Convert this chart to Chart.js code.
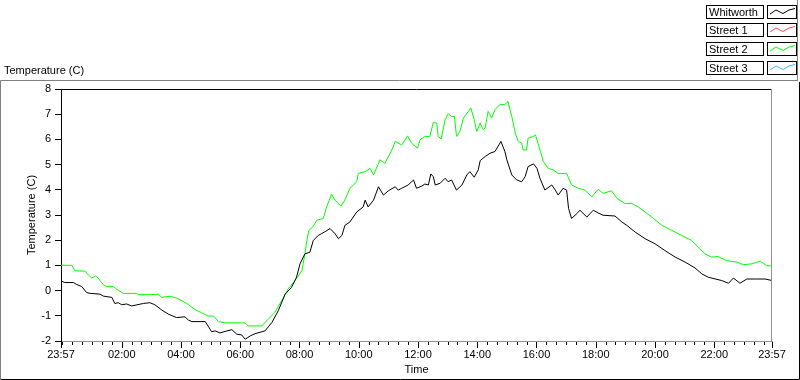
<!DOCTYPE html>
<html>
<head>
<meta charset="utf-8">
<script src="https://cdn.jsdelivr.net/npm/chart.js@4/dist/chart.umd.min.js"></script>
<style>
  html, body { margin: 0; padding: 0; background: #fff; }
  #graph { display: block; }
</style>
</head>
<body>
<canvas id="graph" width="800" height="380"></canvas>
<script>
// minutes after 23:57 -> temperature (C)
var whitworthTimes = [0, 8, 25, 32, 42, 52, 59, 79, 86, 93, 103, 109, 116, 123, 133, 143, 167, 180, 190, 204, 217, 234, 251, 258, 265, 292, 298, 305, 312, 322, 336, 346, 356, 366, 373, 383, 393, 413, 427, 440, 454, 467, 477, 484, 494, 504, 511, 521, 528, 545, 555, 562, 569, 575, 585, 599, 612, 616, 622, 633, 643, 653, 663, 677, 683, 690, 703, 714, 720, 731, 737, 744, 749, 754, 758, 768, 778, 784, 791, 801, 812, 822, 828, 837, 845, 849, 859, 869, 879, 891, 899, 903, 913, 923, 933, 940, 946, 957, 964, 970, 980, 994, 1001, 1007, 1017, 1024, 1028, 1034, 1045, 1051, 1065, 1078, 1088, 1098, 1122, 1136, 1146, 1163, 1183, 1203, 1223, 1244, 1264, 1284, 1298, 1311, 1338, 1352, 1362, 1375, 1389, 1406, 1426, 1440];
var whitworthTemps = [0.38, 0.32, 0.32, 0.24, 0.16, -0.08, -0.11, -0.14, -0.22, -0.24, -0.27, -0.51, -0.48, -0.56, -0.53, -0.61, -0.51, -0.48, -0.56, -0.77, -0.93, -1.07, -1.04, -1.17, -1.23, -1.23, -1.41, -1.63, -1.60, -1.68, -1.60, -1.55, -1.73, -1.76, -1.93, -1.80, -1.71, -1.60, -1.27, -0.80, -0.14, 0.13, 0.53, 1.06, 1.46, 1.52, 1.99, 2.19, 2.26, 2.46, 2.26, 2.06, 2.19, 2.59, 2.72, 3.12, 3.32, 3.59, 3.32, 3.59, 4.12, 3.79, 3.96, 4.12, 3.99, 4.06, 4.19, 4.39, 4.06, 4.15, 4.23, 4.19, 4.63, 4.52, 4.19, 4.26, 4.46, 4.32, 4.39, 3.99, 4.19, 4.59, 4.72, 4.50, 4.79, 5.16, 5.32, 5.45, 5.52, 5.92, 5.52, 5.19, 4.59, 4.39, 4.32, 4.52, 4.92, 5.03, 4.85, 4.46, 3.99, 4.19, 3.99, 3.79, 4.06, 3.99, 3.26, 2.86, 3.06, 3.19, 2.92, 3.19, 3.08, 2.99, 2.96, 2.72, 2.59, 2.32, 2.06, 1.86, 1.59, 1.33, 1.13, 0.90, 0.66, 0.53, 0.40, 0.29, 0.50, 0.29, 0.46, 0.46, 0.46, 0.40];

var street2Times = [0, 22, 28, 49, 55, 62, 70, 76, 82, 89, 106, 113, 126, 153, 157, 184, 197, 204, 221, 234, 245, 255, 271, 285, 298, 309, 319, 332, 366, 373, 379, 407, 413, 420, 433, 447, 460, 474, 488, 494, 498, 502, 511, 518, 531, 538, 548, 555, 567, 575, 585, 599, 602, 616, 626, 633, 646, 656, 670, 677, 690, 702, 710, 722, 727, 737, 747, 754, 761, 764, 770, 778, 784, 791, 797, 801, 808, 815, 825, 830, 837, 842, 849, 855, 859, 865, 872, 879, 889, 899, 905, 913, 920, 926, 933, 936, 943, 946, 957, 961, 970, 977, 987, 997, 1007, 1024, 1034, 1048, 1061, 1075, 1088, 1098, 1115, 1126, 1142, 1156, 1169, 1183, 1200, 1217, 1237, 1257, 1277, 1291, 1304, 1318, 1331, 1348, 1369, 1382, 1399, 1416, 1429, 1440];
var street2Temps = [1.01, 1.00, 0.79, 0.77, 0.63, 0.50, 0.58, 0.48, 0.32, 0.18, 0.16, 0.05, -0.11, -0.11, -0.16, -0.16, -0.14, -0.27, -0.22, -0.30, -0.40, -0.51, -0.75, -0.88, -1.01, -1.01, -1.23, -1.28, -1.28, -1.29, -1.40, -1.40, -1.27, -1.13, -0.87, -0.40, 0.06, 0.40, 0.79, 1.46, 1.99, 2.39, 2.55, 2.79, 2.86, 3.32, 3.83, 3.59, 3.35, 3.59, 4.06, 4.32, 4.65, 4.72, 4.85, 4.59, 5.19, 5.05, 5.58, 5.92, 5.78, 6.14, 5.85, 5.65, 5.98, 6.12, 6.12, 6.67, 6.65, 6.12, 6.01, 6.78, 7.02, 6.91, 6.91, 6.12, 6.32, 6.85, 7.11, 7.25, 6.78, 6.32, 6.65, 6.38, 6.45, 7.11, 6.85, 7.18, 7.38, 7.38, 7.51, 6.91, 6.25, 5.92, 5.85, 5.58, 5.58, 6.05, 6.12, 6.18, 5.58, 5.12, 4.85, 4.79, 4.65, 4.65, 4.19, 4.06, 3.99, 3.72, 4.02, 3.86, 3.96, 3.66, 3.46, 3.46, 3.32, 3.12, 2.86, 2.59, 2.39, 2.19, 1.99, 1.72, 1.46, 1.33, 1.35, 1.19, 1.13, 1.03, 1.06, 1.17, 0.99, 0.98];

// no visible trace for these two
var street1Times = [];
var street1Temps = [];
var street3Times = [];
var street3Temps = [];

var seriesNames = ['Whitworth', 'Street 1', 'Street 2', 'Street 3'];
var seriesColors = ['#000000', '#ff4a4a', '#00ff00', '#33bbff'];

var xTickValues = [0, 123, 243, 363, 483, 603, 723, 843, 963, 1083, 1203, 1323, 1440];
var xTickLabels = ['23:57', '02:00', '04:00', '06:00', '08:00', '10:00', '12:00', '14:00', '16:00', '18:00', '20:00', '22:00', '23:57'];

var FONT = "'Liberation Sans', Arial, sans-serif";

function pts(times, temps) {
  return times.map(function (t, i) { return {x: t, y: temps[i]}; });
}

var allTimes = [whitworthTimes, street1Times, street2Times, street3Times];
var allTemps = [whitworthTemps, street1Temps, street2Temps, street3Temps];

var datasets = seriesNames.map(function (name, i) {
  return {
    label: name,
    data: pts(allTimes[i], allTemps[i]),
    borderColor: seriesColors[i],
    backgroundColor: seriesColors[i],
    borderWidth: 1,
    pointRadius: 0,
    tension: 0,
    fill: false
  };
});

// frame, minor ticks, legend, corner label
var decor = {
  id: 'decor',
  afterDraw: function (chart) {
    var ctx = chart.ctx;
    var a = chart.chartArea;
    var xs = chart.scales.x;
    ctx.save();
    ctx.lineWidth = 1;

    // panel border
    ctx.strokeStyle = '#808080';
    ctx.beginPath();
    ctx.moveTo(0.5, 380); ctx.lineTo(0.5, 80.5); ctx.lineTo(798, 80.5);
    ctx.moveTo(797.5, 0); ctx.lineTo(797.5, 80);
    ctx.stroke();
    ctx.strokeStyle = '#000';
    ctx.beginPath();
    ctx.moveTo(799.5, 82); ctx.lineTo(799.5, 379.5); ctx.lineTo(1, 379.5);
    ctx.stroke();

    // plot frame top / right
    ctx.strokeStyle = '#000';
    ctx.beginPath();
    ctx.moveTo(a.left, a.top + 0.5); ctx.lineTo(a.right, a.top + 0.5);
    ctx.stroke();
    ctx.strokeStyle = '#909090';
    ctx.beginPath();
    ctx.moveTo(a.right - 0.5, a.top); ctx.lineTo(a.right - 0.5, a.bottom);
    ctx.stroke();

    // x ticks: minor every 20 min from 00:00, major at labels
    ctx.strokeStyle = '#000';
    ctx.beginPath();
    for (var m = 3; m < 1440; m += 20) {
      var px = Math.round(xs.getPixelForValue(m)) + 0.5;
      ctx.moveTo(px, a.bottom + 1); ctx.lineTo(px, a.bottom + 4);
    }
    xTickValues.forEach(function (v) {
      var px = Math.round(xs.getPixelForValue(v)) + 0.5;
      ctx.moveTo(px, a.bottom + 1); ctx.lineTo(px, a.bottom + 7);
    });
    ctx.stroke();

    // corner label
    ctx.fillStyle = '#000';
    ctx.font = '11px ' + FONT;
    ctx.textBaseline = 'middle';
    ctx.textAlign = 'left';
    ctx.fillText('Temperature (C)', 4, 71);

    // legend
    seriesNames.forEach(function (name, i) {
      var top = 4.5 + i * 18.7;
      ctx.fillStyle = '#fff';
      ctx.fillRect(707, Math.round(top), 56, 13);
      ctx.strokeStyle = '#000';
      ctx.strokeRect(706.5, Math.round(top) + 0.5, 57, 13);
      ctx.strokeRect(767.5, Math.round(top) + 0.5, 29, 13);
      ctx.fillStyle = '#000';
      ctx.fillText(name, 709, Math.round(top) + 7.5);
      var t0 = Math.round(top);
      ctx.strokeStyle = seriesColors[i];
      ctx.beginPath();
      ctx.moveTo(770, t0 + 9); ctx.lineTo(776, t0 + 5); ctx.lineTo(783, t0 + 8.5);
      ctx.lineTo(789, t0 + 5); ctx.lineTo(795, t0 + 3.5);
      ctx.stroke();
    });
    ctx.restore();
  }
};

var context = document.getElementById('graph').getContext('2d');
var chart = new Chart(context, {
  type: 'line',
  data: { datasets: datasets },
  options: {
    responsive: false,
    animation: false,
    layout: { padding: { left: 0, top: 89, right: 28, bottom: 0 } },
    plugins: {
      legend: { display: false },
      tooltip: { enabled: false }
    },
    scales: {
      x: {
        type: 'linear',
        min: 0,
        max: 1440,
        afterBuildTicks: function (scale) {
          scale.ticks = xTickValues.map(function (v) { return {value: v}; });
        },
        afterFit: function (scale) { scale.height = 39; },
        ticks: {
          autoSkip: false,
          maxRotation: 0,
          padding: 7,
          color: '#000',
          font: { family: FONT, size: 11 },
          callback: function (v) {
            var k = xTickValues.indexOf(v);
            return k >= 0 ? xTickLabels[k] : '';
          }
        },
        grid: { drawOnChartArea: false, drawTicks: false },
        border: { color: '#909090' },
        title: {
          display: true,
          text: 'Time',
          color: '#000',
          font: { family: FONT, size: 11 },
          padding: { top: 0, bottom: 3 }
        }
      },
      y: {
        min: -2,
        max: 8,
        afterFit: function (scale) { scale.width = 61; },
        ticks: {
          stepSize: 1,
          padding: 4,
          color: '#000',
          font: { family: FONT, size: 11 }
        },
        grid: { drawOnChartArea: false, drawTicks: true, tickLength: 6, tickColor: '#000' },
        border: { color: '#000' },
        title: {
          display: true,
          text: 'Temperature (C)',
          color: '#000',
          font: { family: FONT, size: 11 },
          padding: { top: 25, bottom: 0 }
        }
      }
    }
  },
  plugins: [decor]
});
</script>
</body>
</html>
